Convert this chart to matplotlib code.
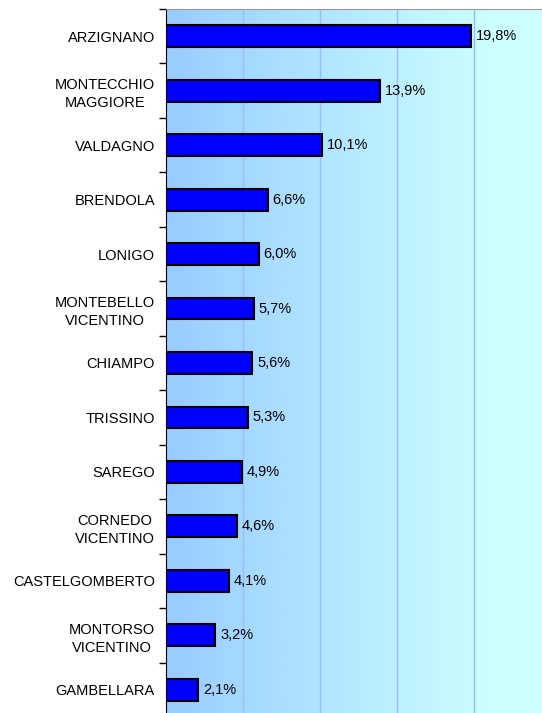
import numpy as np
import matplotlib.pyplot as plt
from matplotlib.colors import LinearSegmentedColormap

plt.rcParams['font.family'] = ['Liberation Sans', 'DejaVu Sans']

comuni = ['ARZIGNANO', 'MONTECCHIO\nMAGGIORE', 'VALDAGNO', 'BRENDOLA', 'LONIGO',
          'MONTEBELLO\nVICENTINO', 'CHIAMPO', 'TRISSINO', 'SAREGO',
          'CORNEDO\nVICENTINO', 'CASTELGOMBERTO', 'MONTORSO\nVICENTINO', 'GAMBELLARA']
quote = [19.8, 13.9, 10.1, 6.6, 6.0, 5.7, 5.6, 5.3, 4.9, 4.6, 4.1, 3.2, 2.1]

W, H = 542, 713
fig = plt.figure(figsize=(W / 100, H / 100), dpi=100)
left_px, top_px, bottom_px = 166, 9, 717
ax = fig.add_axes([left_px / W, (H - bottom_px) / H,
                   (W - left_px) / W, (bottom_px - top_px) / H])

xmax = (W - left_px) / 15.42
y = np.arange(len(comuni))

# background gradient of the plot area
cmap = LinearSegmentedColormap.from_list('bg', ['#99CCFF', '#CCFFFF'])
grad = np.clip(np.linspace(0, xmax / 21.0, 400), 0, 1).reshape(1, -1)
ax.imshow(grad, cmap=cmap, vmin=0, vmax=1, aspect='auto',
          extent=[0, xmax, len(comuni) - 0.5, -0.5], zorder=0)

for gx in [5, 10, 15, 20]:
    ax.axvline(gx, color='#99BBFF', lw=1, zorder=1)

ax.barh(y, quote, height=0.4, color='#0000FF', edgecolor='black', lw=1.5, zorder=2)
for yi, v in zip(y, quote):
    ax.annotate(f'{v:.1f}%'.replace('.', ','), (v, yi), xytext=(3.5, 0),
                textcoords='offset points', va='center', ha='left', fontsize=10.5)

ax.set_xlim(0, xmax)
ax.set_ylim(len(comuni) - 0.5, -0.5)
ax.set_yticks(y)
ax.set_yticklabels(comuni, fontsize=10.5, linespacing=1.35, multialignment='center')
ax.tick_params(axis='y', which='major', length=0, pad=8)
ax.set_yticks(np.arange(len(comuni) + 1) - 0.5, minor=True)
ax.tick_params(axis='y', which='minor', length=5, width=1)
ax.set_xticks([])

ax.spines['left'].set_color('black')
ax.spines['top'].set_color('#999999')
ax.spines['right'].set_visible(False)
ax.spines['bottom'].set_visible(False)

fig.savefig('out.png', dpi=100)
